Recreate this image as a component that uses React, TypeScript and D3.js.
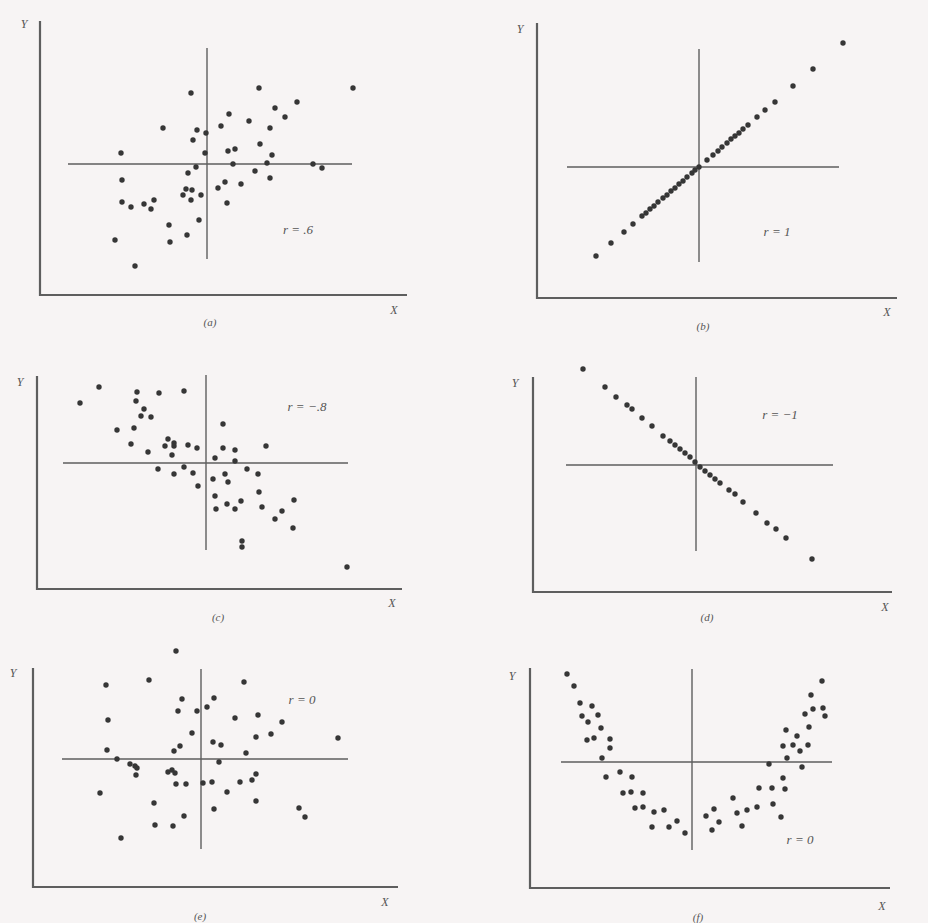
import React from "react";
import * as d3 from "d3";

// Deviation scores (x, y) around the means for six example samples.
const scatterA: [number, number][] = [
  [-1.6, 7.1], [5.2, 7.6], [14.6, 7.6], [9.0, 6.2], [6.8, 5.6], [2.2, 5.0], [7.8, 4.7],
  [4.2, 4.3], [1.4, 3.8], [6.3, 3.6], [-4.4, 3.6], [-1.0, 3.4], [-0.1, 3.1], [-1.4, 2.4],
  [5.3, 2.0], [2.1, 1.3], [2.8, 1.5], [-0.2, 1.1], [-8.6, 1.1], [6.5, 0.9], [2.6, 0.0],
  [6.0, 0.1], [10.6, 0.0], [11.5, -0.4], [-1.1, -0.3], [4.8, -0.7], [-1.9, -0.9], [6.3, -1.4],
  [-8.5, -1.6], [1.8, -1.8], [3.4, -2.0], [1.1, -2.4], [-2.1, -2.5], [-1.5, -2.6], [-2.4, -3.1],
  [-0.6, -3.1], [-1.6, -3.6], [-8.5, -3.8], [-7.6, -4.3], [-6.3, -4.0], [-5.3, -3.6], [-5.6, -4.5],
  [2.0, -3.9], [-0.8, -5.6], [-3.8, -6.1], [-2.0, -7.1], [-3.7, -7.8], [-9.2, -7.6], [-7.2, -10.2],
];

const scatterB: [number, number][] = [
  [-10.3, -8.9], [-8.8, -7.6], [-7.5, -6.5], [-6.6, -5.7], [-5.7, -4.9], [-5.3, -4.6],
  [-4.9, -4.2], [-4.5, -3.9], [-4.1, -3.5], [-3.6, -3.1], [-3.2, -2.8], [-2.8, -2.4],
  [-2.4, -2.1], [-2.0, -1.7], [-1.6, -1.4], [-1.2, -1.0], [-0.7, -0.6], [-0.4, -0.3],
  [0.0, 0.0], [0.8, 0.7], [1.4, 1.2], [1.9, 1.6], [2.3, 2.0], [2.8, 2.4], [3.2, 2.8],
  [3.6, 3.1], [4.0, 3.4], [4.4, 3.8], [4.9, 4.2], [5.8, 5.0], [6.6, 5.7], [7.6, 6.5],
  [9.4, 8.1], [11.4, 9.8], [14.4, 12.4],
];

const scatterC: [number, number][] = [
  [-12.6, 6.0], [-10.7, 7.6], [-6.9, 7.1], [-4.7, 7.0], [-2.2, 7.2], [-7.0, 6.2], [-6.2, 5.4],
  [-6.5, 4.7], [-5.5, 4.6], [-8.9, 3.3], [-7.2, 3.5], [1.7, 3.9], [-7.5, 1.9], [-3.8, 2.4],
  [-3.2, 2.0], [-4.1, 1.7], [-3.2, 1.7], [-1.8, 1.8], [-0.9, 1.5], [1.7, 1.5], [2.9, 1.3],
  [6.0, 1.7], [-5.8, 1.1], [-3.4, 0.8], [0.9, 0.5], [2.9, 0.2], [-4.8, -0.6], [-2.2, -0.4],
  [-1.3, -1.0], [-3.2, -1.1], [0.7, -1.6], [1.9, -1.1], [4.1, -0.6], [5.2, -1.1], [2.2, -1.9],
  [-0.8, -2.3], [5.3, -2.9], [0.9, -3.3], [2.1, -4.1], [3.5, -3.8], [1.0, -4.6], [2.9, -4.6],
  [5.6, -4.4], [8.8, -3.7], [7.6, -4.8], [6.9, -5.6], [8.7, -6.5], [3.6, -7.8], [3.6, -8.4],
  [14.1, -10.4],
];

const scatterD: [number, number][] = [
  [-11.3, 9.6], [-9.1, 7.8], [-8.0, 6.8], [-6.9, 6.0], [-6.4, 5.6], [-5.4, 4.7], [-4.4, 3.9],
  [-3.3, 2.9], [-2.6, 2.4], [-2.1, 2.0], [-1.6, 1.6], [-1.1, 1.2], [-0.6, 0.8], [-0.1, 0.3],
  [0.4, -0.2], [0.9, -0.6], [1.4, -1.0], [1.9, -1.4], [2.4, -1.8], [3.3, -2.5], [3.9, -2.9],
  [4.7, -3.7], [6.0, -4.8], [7.1, -5.8], [8.0, -6.4], [9.0, -7.3], [11.6, -9.4],
];

const scatterE: [number, number][] = [
  [-2.5, 10.8], [-9.5, 7.4], [-5.2, 7.9], [4.3, 7.7], [-1.9, 6.0], [1.3, 6.1], [-2.3, 4.8],
  [-0.4, 4.8], [0.6, 5.2], [-9.3, 3.9], [3.4, 4.1], [5.7, 4.4], [8.1, 3.7], [-0.9, 2.6],
  [7.0, 2.5], [5.5, 2.2], [13.7, 2.1], [1.2, 1.7], [2.0, 1.4], [-2.1, 1.3], [-2.7, 0.8],
  [-9.4, 0.9], [4.5, 0.6], [-8.4, 0.0], [-7.1, -0.5], [-6.6, -0.7], [-6.4, -0.9], [1.8, -0.3],
  [-3.3, -1.3], [-2.9, -1.1], [-2.6, -1.4], [-6.5, -1.6], [5.5, -1.5], [-2.5, -2.5], [-1.5, -2.5],
  [0.2, -2.4], [1.1, -2.3], [3.9, -2.3], [5.1, -2.1], [-10.1, -3.4], [2.6, -3.3], [5.5, -4.2],
  [-4.7, -4.4], [1.3, -5.0], [9.8, -4.9], [10.4, -5.8], [-1.7, -5.7], [-4.6, -6.6], [-2.8, -6.7],
  [-8.0, -7.9],
];

const scatterF: [number, number][] = [
  [-12.5, 8.8], [-11.8, 7.6], [-11.2, 5.9], [-10.0, 5.6], [-11.0, 4.6], [-9.4, 4.7], [-10.4, 4.0],
  [-9.1, 3.4], [-10.5, 2.2], [-9.8, 2.4], [-8.2, 2.3], [-8.2, 1.4], [-9.0, 0.4], [-8.6, -1.5],
  [-7.2, -1.0], [-6.0, -1.5], [-6.9, -3.1], [-6.1, -3.0], [-4.9, -3.1], [-5.7, -4.6], [-4.9, -4.5],
  [-3.8, -5.0], [-2.8, -4.8], [-4.0, -6.5], [-2.3, -6.5], [-1.5, -5.9], [-0.7, -7.1], [1.4, -5.4],
  [2.2, -4.7], [2.7, -6.0], [2.0, -6.8], [4.1, -3.6], [4.5, -5.1], [5.5, -4.8], [5.0, -6.4],
  [6.5, -4.5], [6.7, -2.6], [8.0, -2.6], [8.1, -4.2], [8.9, -5.5], [9.3, -2.7], [9.1, -1.6],
  [7.7, -0.2], [9.5, 0.4], [11.0, -0.5], [9.1, 1.6], [10.1, 1.7], [10.8, 1.1], [11.6, 1.7],
  [9.4, 3.2], [10.5, 2.6], [11.7, 3.5], [11.3, 4.8], [12.1, 5.3], [11.9, 6.7], [13.0, 8.1],
  [13.1, 5.4], [13.3, 4.6],
];

const panelData = [scatterA, scatterB, scatterC, scatterD, scatterE, scatterF];
const panelCaptions = ["(a)", "(b)", "(c)", "(d)", "(e)", "(f)"];
const correlationLabels = ["r = .6", "r = 1", "r = \u2212.8", "r = \u22121", "r = 0", "r = 0"];

// Panel geometry in pixels: axis corner, axis ends, mean crossing and label anchors.
interface PanelLayout {
  ox: number; oy: number; top: number; right: number;
  cx: number; cy: number;
  vTop: number; vBottom: number; hLeft: number; hRight: number;
  yLab: [number, number]; xLab: [number, number]; cap: [number, number]; rLab: [number, number];
}

const layouts: PanelLayout[] = [
  { ox: 40, oy: 295, top: 21, right: 407, cx: 207, cy: 164, vTop: 48, vBottom: 259, hLeft: 68, hRight: 352,
    yLab: [24, 28], xLab: [394, 314], cap: [210, 326], rLab: [298, 234] },
  { ox: 537, oy: 298, top: 23, right: 897, cx: 699, cy: 167, vTop: 49, vBottom: 262, hLeft: 567, hRight: 839,
    yLab: [520, 33], xLab: [887, 316], cap: [703, 330], rLab: [777, 236] },
  { ox: 37, oy: 589, top: 376, right: 402, cx: 206, cy: 463, vTop: 375, vBottom: 550, hLeft: 63, hRight: 348,
    yLab: [20, 386], xLab: [392, 607], cap: [218, 621], rLab: [307, 411] },
  { ox: 533, oy: 592, top: 377, right: 892, cx: 696, cy: 465, vTop: 377, vBottom: 551, hLeft: 566, hRight: 833,
    yLab: [515, 387], xLab: [885, 611], cap: [707, 621], rLab: [780, 419] },
  { ox: 33, oy: 887, top: 668, right: 398, cx: 201, cy: 759, vTop: 669, vBottom: 849, hLeft: 62, hRight: 348,
    yLab: [13, 677], xLab: [385, 906], cap: [200, 920], rLab: [302, 704] },
  { ox: 530, oy: 888, top: 668, right: 890, cx: 692, cy: 762, vTop: 669, vBottom: 850, hLeft: 561, hRight: 832,
    yLab: [512, 680], xLab: [882, 910], cap: [698, 921], rLab: [800, 844] },
];

const UNIT = 10; // pixels per data unit
const INK = "#363636";
const LINE = "#5e5e5e";
const TEXT = "#555555";

function Panel({ layout, data, caption, rText }: {
  layout: PanelLayout; data: [number, number][]; caption: string; rText: string;
}) {
  const x = d3.scaleLinear().domain([0, 1]).range([layout.cx, layout.cx + UNIT]);
  const y = d3.scaleLinear().domain([0, 1]).range([layout.cy, layout.cy - UNIT]);
  const italic = { fontFamily: "'Liberation Serif', 'DejaVu Serif', serif", fontStyle: "italic" as const };
  return (
    <g>
      {/* axes */}
      <path d={`M${layout.ox},${layout.top}V${layout.oy}H${layout.right}`} fill="none" stroke={LINE} strokeWidth={2.2} />
      {/* mean lines */}
      <line x1={x(0)} x2={x(0)} y1={layout.vTop} y2={layout.vBottom} stroke={LINE} strokeWidth={1.4} />
      <line x1={layout.hLeft} x2={layout.hRight} y1={y(0)} y2={y(0)} stroke={LINE} strokeWidth={1.4} />
      {data.map(([dx, dy], i) => (
        <circle key={i} cx={x(dx)} cy={y(dy)} r={2.7} fill={INK} />
      ))}
      <text x={layout.yLab[0]} y={layout.yLab[1]} fontSize={12} fill={TEXT} textAnchor="middle" style={italic}>Y</text>
      <text x={layout.xLab[0]} y={layout.xLab[1]} fontSize={12} fill={TEXT} textAnchor="middle" style={italic}>X</text>
      <text x={layout.cap[0]} y={layout.cap[1]} fontSize={11} fill={TEXT} textAnchor="middle" style={italic}>{caption}</text>
      <text x={layout.rLab[0]} y={layout.rLab[1]} fontSize={13} fill={TEXT} textAnchor="middle" style={italic}>{rText}</text>
    </g>
  );
}

export default function App() {
  return (
    <svg width={928} height={923} style={{ position: "absolute", left: 0, top: 0, display: "block" }}>
      <rect width={928} height={923} fill="#f7f4f4" />
      {layouts.map((layout, i) => (
        <Panel key={i} layout={layout} data={panelData[i]} caption={panelCaptions[i]} rText={correlationLabels[i]} />
      ))}
    </svg>
  );
}
